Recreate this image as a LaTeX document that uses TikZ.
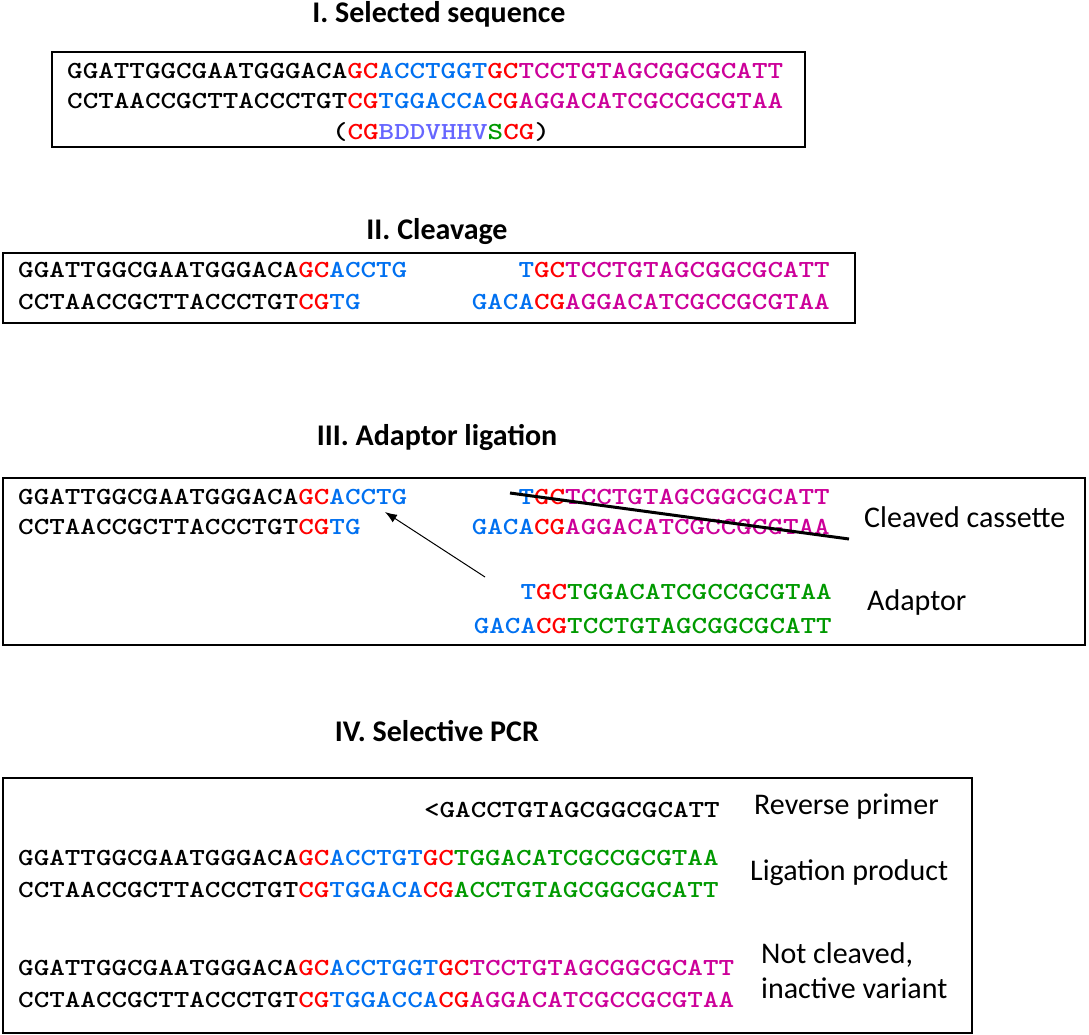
\documentclass[tikz,border=0pt]{standalone}
\usepackage{fontspec}
\usetikzlibrary{arrows.meta}
\newfontfamily\labfont{Carlito}
\newfontfamily\seqfont{lmmonolt10-bold}[Extension=.otf,FakeStretch=1.21]
\definecolor{sred}{HTML}{FF0000}
\definecolor{sblue}{HTML}{0070F0}
\definecolor{smag}{HTML}{CC0099}
\definecolor{sgreen}{HTML}{009900}
\definecolor{slav}{HTML}{6666FF}
\newcommand{\R}[1]{\textcolor{sred}{#1}}
\newcommand{\B}[1]{\textcolor{sblue}{#1}}
\newcommand{\M}[1]{\textcolor{smag}{#1}}
\newcommand{\G}[1]{\textcolor{sgreen}{#1}}
\newcommand{\Lv}[1]{\textcolor{slav}{#1}}
\begin{document}
\begin{tikzpicture}[x=1pt,y=-1pt,
  seq/.style={inner sep=0pt,font=\seqfont\fontsize{24.5}{24.5}\selectfont},
  seqL/.style={seq,anchor=base west},
  seqR/.style={seq,anchor=base east},
  title/.style={inner sep=0pt,font=\labfont\bfseries\fontsize{30}{30}\selectfont},
  lab/.style={inner sep=0pt,anchor=west,font=\labfont\fontsize{30}{30}\selectfont},
  box/.style={draw=black,line width=1.2pt},
  strike/.style={line width=3pt,black},
  arr/.style={line width=1pt,-{Latex[length=12pt,width=9pt]}}]
\useasboundingbox (0,0) rectangle (1089,1035);
% I
\node[title] (t1) at (439,14) {I. Selected sequence};
\draw[box] (52,52) rectangle (805,147);
\node[seqL] (s1a) at (67,79) {GGATTGGCGAATGGGACA\R{GC}\B{ACCTGGT}\R{GC}\M{TCCTGTAGCGGCGCATT}};
\node[seqL] (s1b) at (67,109) {CCTAACCGCTTACCCTGT\R{CG}\B{TGGACCA}\R{CG}\M{AGGACATCGCCGCGTAA}};
\node[seq,anchor=base] (s1c) at (441,140) {(\R{CG}\Lv{BDDVHHV}\G{S}\R{CG})};
% II
\node[title] (t2) at (437,232) {II. Cleavage};
\draw[box] (3,253) rectangle (855,323);
\node[seqL] (s2a) at (18,277) {GGATTGGCGAATGGGACA\R{GC}\B{ACCTG}};
\node[seqL] (s2b) at (18,309) {CCTAACCGCTTACCCTGT\R{CG}\B{TG}};
\node[seqR] (s2c) at (830,277) {\B{T}\R{GC}\M{TCCTGTAGCGGCGCATT}};
\node[seqR] (s2d) at (830,309) {\B{GACA}\R{CG}\M{AGGACATCGCCGCGTAA}};
% III
\node[title] (t3) at (437,437) {III. Adaptor ligation};
\draw[box] (3,478) rectangle (1085,645);
\node[seqL] (s3a) at (18,504) {GGATTGGCGAATGGGACA\R{GC}\B{ACCTG}};
\node[seqL] (s3b) at (18,534) {CCTAACCGCTTACCCTGT\R{CG}\B{TG}};
\node[seqR] (s3c) at (830,504) {\B{T}\R{GC}\M{TCCTGTAGCGGCGCATT}};
\node[seqR] (s3d) at (830,534) {\B{GACA}\R{CG}\M{AGGACATCGCCGCGTAA}};
\node[seqR] (s3e) at (832,599) {\B{T}\R{GC}\G{TGGACATCGCCGCGTAA}};
\node[seqR] (s3f) at (832,633) {\B{GACA}\R{CG}\G{TCCTGTAGCGGCGCATT}};
\node[lab] (l3a) at (864,517) {Cleaved cassette};
\node[lab] (l3b) at (867,602) {Adaptor};
\coordinate (k1) at (510,493);
\coordinate (k2) at (849,539);
\draw[strike] (k1) -- (k2);
\coordinate (a1) at (485,577);
\coordinate (a2) at (385,512);
\draw[arr] (a1) -- (a2);
% IV
\node[title] (t4) at (437,731) {IV. Selective PCR};
\draw[box,line width=1.6pt] (3,778) rectangle (972,1033);
\node[seqR] (s4a) at (720,817) {<GACCTGTAGCGGCGCATT};
\node[lab] (l4a) at (754,807) {Reverse primer};
\node[seqL] (s4b) at (18,865) {GGATTGGCGAATGGGACA\R{GC}\B{ACCTGT}\R{GC}\G{TGGACATCGCCGCGTAA}};
\node[seqL] (s4c) at (18,897) {CCTAACCGCTTACCCTGT\R{CG}\B{TGGACA}\R{CG}\G{ACCTGTAGCGGCGCATT}};
\node[lab] (l4b) at (750,873) {Ligation product};
\node[seqL] (s4d) at (18,975) {GGATTGGCGAATGGGACA\R{GC}\B{ACCTGGT}\R{GC}\M{TCCTGTAGCGGCGCATT}};
\node[seqL] (s4e) at (18,1007) {CCTAACCGCTTACCCTGT\R{CG}\B{TGGACCA}\R{CG}\M{AGGACATCGCCGCGTAA}};
\node[lab] (l4c) at (761,955) {Not cleaved,};
\node[lab] (l4d) at (761,988) {inactive variant};
\end{tikzpicture}
\end{document}
